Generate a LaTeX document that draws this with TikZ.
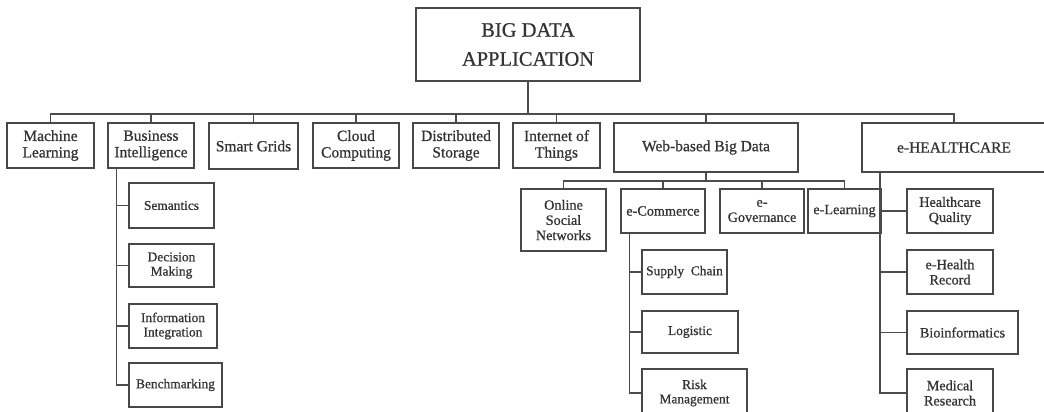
\documentclass[tikz,border=0pt]{standalone}
\usepackage{fontspec}
\setmainfont{Liberation Serif}[FakeBold=0.7]
\definecolor{boxgray}{HTML}{484848}
\definecolor{linegray}{HTML}{4C4C4C}
\definecolor{textgray}{HTML}{333333}
\tikzset{
  box/.style={draw=boxgray, line width=1.5pt, inner sep=0pt, align=center, text=textgray},
  rootbox/.style={box, font=\fontsize{20.5}{29}\selectfont},
  lvlone/.style={box, font=\fontsize{15.5}{16.5}\selectfont},
  lvltwo/.style={box, font=\fontsize{14.2}{15.2}\selectfont},
  lvlthree/.style={box, font=\fontsize{13.4}{14.4}\selectfont},
  sz/.style 2 args={minimum width=#1pt, minimum height=#2pt},
  link/.style={draw=linegray, line width=1.5pt},
}
\begin{document}
\begin{tikzpicture}[x=1pt, y=-1pt]
\useasboundingbox (0,0) rectangle (1044,412);
\fill[white] (0,0) rectangle (1044,412);
\clip (0,0) rectangle (1044,412);

% root
\node[rootbox, sz={224}{73}] (top) at (528,44.5) {BIG DATA\\APPLICATION};

% first level
\node[lvlone, sz={87}{45}]  (ml)  at (50.5,145.5) {Machine\\Learning};
\node[lvlone, sz={86}{45}]  (bi)  at (151,145.5)  {Business\\Intelligence};
\node[lvlone, sz={89}{46}]  (sg)  at (253.5,146)  {Smart Grids};
\node[lvlone, sz={86}{45}]  (cc)  at (356,145.5)  {Cloud\\Computing};
\node[lvlone, sz={86}{45}]  (ds)  at (456,145.5)  {Distributed\\Storage};
\node[lvlone, sz={87}{45}]  (iot) at (556.5,145.5) {Internet of\\Things};
\node[lvlone, sz={184}{49}] (web) at (706,147.5)  {Web-based Big Data};
\node[lvlone, sz={184}{49}] (eh)  at (954,147.5)  {e-HEALTHCARE};

% business intelligence branch
\node[lvlthree, sz={85}{45}] (sem) at (171.5,205.5) {Semantics};
\node[lvlthree, sz={85}{43}] (dm)  at (171.5,265.5) {Decision\\Making};
\node[lvlthree, sz={88}{44}] (ii)  at (173,326)     {Information\\Integration};
\node[lvlthree, sz={93}{44}] (bm)  at (175.5,385)   {Benchmarking};

% web-based branch
\node[lvltwo, sz={85}{62}] (osn)    at (563.5,220) {Online\\Social\\Networks};
\node[lvltwo, sz={84}{44}] (ecom)   at (663,211)   {e-Commerce};
\node[lvltwo, sz={84}{44}] (egov)   at (762,211)   {e-\\Governance};
\node[lvltwo, sz={73}{44}] (elearn) at (844.5,211) {e-Learning};

% e-commerce branch
\node[lvlthree, sz={85}{44}]  (sc)  at (684.5,272) {Supply\ \ Chain};
\node[lvlthree, sz={96}{42}]  (lg)  at (690,332)   {Logistic};
\node[lvlthree, sz={105}{48}] (rm)  at (694.5,393) {Risk\\Management};

% e-healthcare branch
\node[lvltwo, sz={86}{44}]  (hq)  at (950,211)   {Healthcare\\Quality};
\node[lvltwo, sz={86}{44}]  (ehr) at (950,272)   {e-Health\\Record};
\node[lvltwo, sz={111}{43}] (bio) at (962.5,332.5) {Bioinformatics};
\node[lvltwo, sz={86}{48}]  (mr)  at (950,393)   {Medical\\Research};

% root to first level
\foreach \n in {ml,bi,sg,cc,ds,iot,web,eh}
  \draw[link] (top.south) -- ++(0,32) -| (\n.north);

% business intelligence children
\foreach \n in {sem,dm,ii,bm}
  \draw[link] ([xshift=9pt]bi.south west) |- (\n.west);

% web-based children
\foreach \n in {osn,ecom,egov,elearn}
  \draw[link] (web.south) -- ++(0,8) -| (\n.north);

% e-commerce children
\foreach \n in {sc,lg,rm}
  \draw[link] ([xshift=9pt]ecom.south west) |- (\n.west);

% e-healthcare children
\foreach \n in {hq,ehr,bio,mr}
  \draw[link] ([xshift=18.6pt]eh.south west) |- (\n.west);
\end{tikzpicture}
\end{document}
